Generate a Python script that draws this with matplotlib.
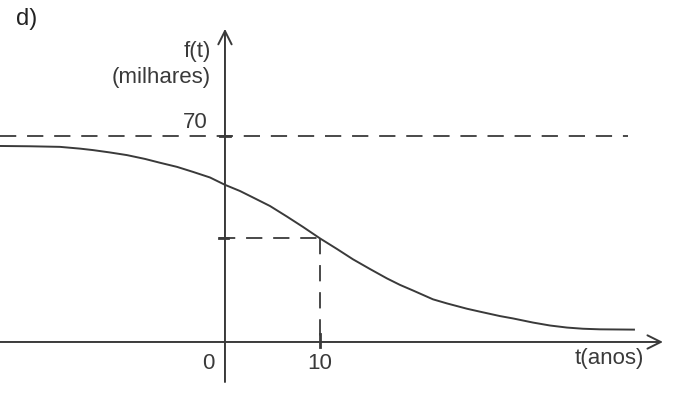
import matplotlib
matplotlib.use('Agg')
import matplotlib.pyplot as plt

plt.rcParams['font.family'] = ['Liberation Sans', 'DejaVu Sans']

# curve: t (anos), f(t) (milhares)
t_vals = [-23.68, -20.53, -17.37, -15.26, -13.89, -12.11, -10.32, -8.42, -6.84,
          -5.05, -3.37, -1.58, 0.0, 1.58, 2.95, 4.74, 6.53, 8.21, 10.0, 11.79,
          13.47, 15.26, 17.05, 18.42, 19.79, 21.89, 23.37, 25.47, 26.84, 28.95,
          30.32, 32.42, 34.21, 36.0, 37.68, 39.47, 43.05]
f_vals = [66.6, 66.5, 66.3, 65.7, 65.2, 64.4, 63.5, 62.2, 60.9,
          59.5, 57.8, 55.9, 53.4, 51.3, 49.1, 46.2, 42.6, 39.1, 35.2, 31.6,
          28.1, 24.8, 21.6, 19.4, 17.5, 14.5, 13.1, 11.3, 10.3, 8.8,
          8.0, 6.6, 5.6, 4.9, 4.5, 4.3, 4.2]

f_max = 70
t_mark = 10
f_mark = 35.2
x_ticks = [0, 10]
x_tick_labels = ['0', '10']

INK = '#3a3a3a'

fig = plt.figure(figsize=(7, 4.09), dpi=100)
ax = fig.add_axes([0, 0, 1, 1])
ax.set_xlim(-23.68, 50.0)
ax.set_ylim(-22.77, 116.2)
ax.axis('off')

# axes with arrows
ax.annotate('', xy=(46.1, 0), xytext=(-23.68, 0),
            arrowprops=dict(arrowstyle='->', color=INK, lw=1.4,
                            mutation_scale=24, shrinkA=0, shrinkB=0))
ax.annotate('', xy=(0, 106.4), xytext=(0, -13.6),
            arrowprops=dict(arrowstyle='->', color=INK, lw=1.4,
                            mutation_scale=24, shrinkA=0, shrinkB=0))

# asymptote 70
ax.plot([-23.68, 42.4], [f_max, f_max], color=INK, lw=1.3, dashes=(9, 6))
ax.plot([-0.5, 0.5], [f_max, f_max], color=INK, lw=2.0)

# guide lines to the point at t = 10
ax.plot([-0.6, t_mark], [f_mark, f_mark], color=INK, lw=1.3, dashes=(9, 6))
ax.plot([t_mark, t_mark], [f_mark, 0], color=INK, lw=1.3, dashes=(9, 6))
ax.plot([-0.6, 0.3], [f_mark, f_mark], color=INK, lw=2.0)
ax.plot([t_mark, t_mark], [-1.7, 2.7], color=INK, lw=2.0)

# curve
ax.plot(t_vals, f_vals, color=INK, lw=1.4)

# labels
fs = 16
ax.text(-1.8, f_max + 1.0, '70', fontsize=fs, color=INK, ha='right', va='bottom')
for tv, lab in zip(x_ticks, x_tick_labels):
    xx = tv - 1.8 if tv == 0 else tv
    ax.text(xx, -7.3, lab, fontsize=fs, color=INK, ha='center', va='center')
ax.text(40.5, -5.6, 't(anos)', fontsize=fs, color=INK, ha='center', va='center')
ax.text(-1.5, 98.6, 'f(t)', fontsize=fs, color=INK, ha='right', va='center')
ax.text(-1.5, 89.8, '(milhares)', fontsize=fs, color=INK, ha='right', va='center')
ax.text(-22.0, 109.7, 'd)', fontsize=fs + 1, color='#222222', ha='left', va='center')

fig.savefig('out.png', dpi=100)
